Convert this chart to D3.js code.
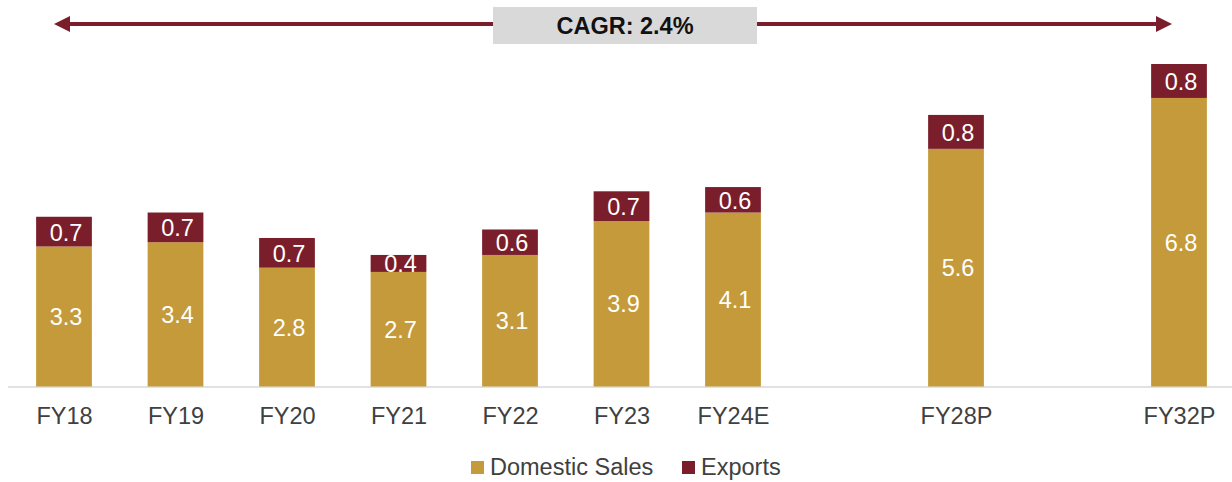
<!DOCTYPE html>
<html>
<head>
<meta charset="utf-8">
<script src="https://cdn.jsdelivr.net/npm/d3@7"></script>
<style>
  html, body { margin: 0; padding: 0; background: #fff; }
  svg { display: block; font-family: "Liberation Sans", Arial, sans-serif; }
</style>
</head>
<body>
<svg id="chart" width="1232" height="482"></svg>
<script>
// ---- data ----
const categories = ["FY18", "FY19", "FY20", "FY21", "FY22", "FY23", "FY24E", "FY28P", "FY32P"];
const domestic   = [3.3, 3.4, 2.8, 2.7, 3.1, 3.9, 4.1, 5.6, 6.8];
const exportsVal = [0.7, 0.7, 0.7, 0.4, 0.6, 0.7, 0.6, 0.8, 0.8];
// slot layout: blank slots keep the visual gap before projections
const slots = ["FY18", "FY19", "FY20", "FY21", "FY22", "FY23", "FY24E", "gapA", "FY28P", "gapB", "FY32P"];
const seriesNames = ["Domestic Sales", "Exports"];
const cagrLabel = "CAGR: 2.4%";

// ---- styles ----
const colDomestic = "#C49A3A";
const colExports = "#7B1E2B";
const textGrey = "#404040";

const svg = d3.select("#chart");
const W = 1232;

const x = d3.scalePoint().domain(slots).range([64, 1179]);
const barW = x.step() * 0.5;
const y = d3.scaleLinear().domain([0, 7.6]).range([386.5, 64]);

const rows = categories.map((c, i) => ({ cat: c, dom: domestic[i], exp: exportsVal[i] }));

// axis line
svg.append("line")
  .attr("x1", 8).attr("x2", W)
  .attr("y1", y(0) + 0.5).attr("y2", y(0) + 0.5)
  .attr("stroke", "#d9d9d9").attr("stroke-width", 1.5);

const g = svg.append("g");
const bars = g.selectAll("g.bar").data(rows).join("g").attr("class", "bar");

bars.append("rect")
  .attr("x", d => x(d.cat) - barW / 2)
  .attr("width", barW)
  .attr("y", d => y(d.dom))
  .attr("height", d => y(0) - y(d.dom))
  .attr("fill", colDomestic);

bars.append("rect")
  .attr("x", d => x(d.cat) - barW / 2)
  .attr("width", barW)
  .attr("y", d => y(d.dom + d.exp))
  .attr("height", d => y(d.dom) - y(d.dom + d.exp))
  .attr("fill", colExports);

bars.append("text")
  .attr("x", d => x(d.cat) + 2)
  .attr("y", d => (y(0) + y(d.dom)) / 2)
  .attr("dy", "0.36em")
  .attr("text-anchor", "middle")
  .attr("fill", "#fff")
  .attr("font-size", 23.5)
  .text(d => d.dom.toFixed(1));

bars.append("text")
  .attr("x", d => x(d.cat) + 2)
  .attr("y", d => (y(d.dom) + y(d.dom + d.exp)) / 2)
  .attr("dy", "0.38em")
  .attr("text-anchor", "middle")
  .attr("fill", "#fff")
  .attr("font-size", 23.5)
  .text(d => d.exp.toFixed(1));

// x axis labels
const xAxis = d3.axisBottom(x).tickSize(0).tickPadding(0)
  .tickValues(categories);
const ax = svg.append("g").attr("transform", `translate(0, ${y(0)})`).call(xAxis);
ax.select(".domain").remove();
ax.selectAll("text")
  .attr("y", 37.5).attr("dy", 0)
  .attr("font-size", 23.5)
  .attr("font-family", "'Liberation Sans', Arial, sans-serif")
  .attr("fill", textGrey);

// CAGR arrow
const arrowY = 24;
const leftTip = 54, rightTip = 1172, headL = 16, headH = 8;
svg.append("line")
  .attr("x1", leftTip + headL - 1).attr("x2", rightTip - headL + 1)
  .attr("y1", arrowY).attr("y2", arrowY)
  .attr("stroke", colExports).attr("stroke-width", 4);
svg.append("path")
  .attr("d", `M${leftTip},${arrowY} L${leftTip + headL},${arrowY - headH} L${leftTip + headL},${arrowY + headH} Z`)
  .attr("fill", colExports);
svg.append("path")
  .attr("d", `M${rightTip},${arrowY} L${rightTip - headL},${arrowY - headH} L${rightTip - headL},${arrowY + headH} Z`)
  .attr("fill", colExports);

svg.append("rect")
  .attr("x", 493).attr("y", 7).attr("width", 264).attr("height", 37)
  .attr("fill", "#d9d9d9");
svg.append("text")
  .attr("x", 625).attr("y", 33.5)
  .attr("text-anchor", "middle")
  .attr("font-size", 23.5).attr("font-weight", "bold")
  .attr("fill", "#111")
  .text(cagrLabel);

// legend
const legendItems = [
  { name: seriesNames[0], color: colDomestic, x: 471 },
  { name: seriesNames[1], color: colExports, x: 682 }
];
const lg = svg.append("g");
legendItems.forEach(it => {
  lg.append("rect").attr("x", it.x).attr("y", 461).attr("width", 13).attr("height", 13).attr("fill", it.color);
  lg.append("text").attr("x", it.x + 19).attr("y", 475)
    .attr("font-size", 23.5).attr("fill", textGrey).text(it.name);
});
</script>
</body>
</html>
